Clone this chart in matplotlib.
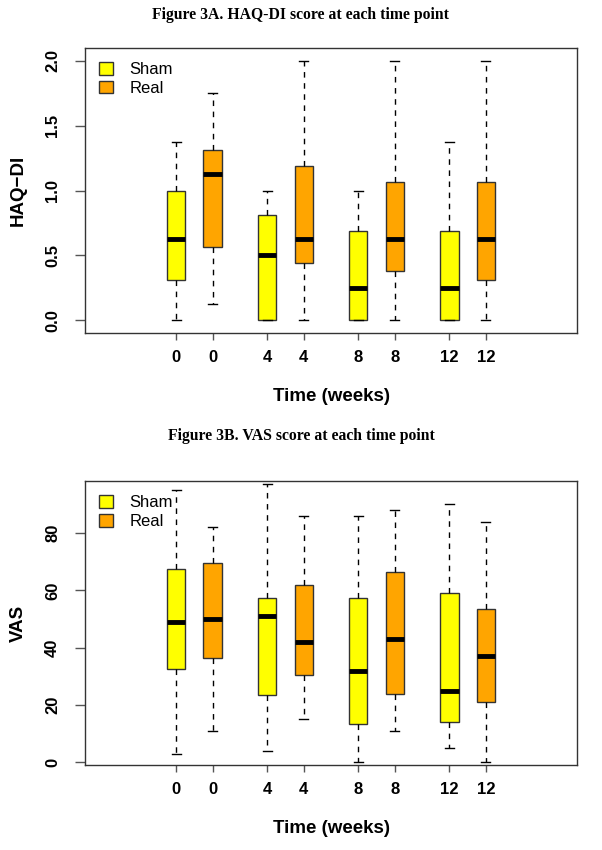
import matplotlib
matplotlib.use("Agg")
import matplotlib.pyplot as plt
from matplotlib.patches import Patch

# positions of the boxes on the x axis (pairs per time point)
positions = [1, 2, 3.5, 4.5, 6, 7, 8.5, 9.5]
tick_labels = ["0", "0", "4", "4", "8", "8", "12", "12"]
groups = ["Sham", "Real", "Sham", "Real", "Sham", "Real", "Sham", "Real"]
colors = {"Sham": "#FFFF00", "Real": "#FFA500"}

# HAQ-DI five-number summaries
haq_low = [0, 0.125, 0, 0, 0, 0, 0, 0]
haq_q1 = [0.3125, 0.5625, 0, 0.4375, 0, 0.375, 0, 0.3125]
haq_med = [0.625, 1.125, 0.5, 0.625, 0.25, 0.625, 0.25, 0.625]
haq_q3 = [1.0, 1.3125, 0.8125, 1.1875, 0.6875, 1.0625, 0.6875, 1.0625]
haq_high = [1.375, 1.75, 1.0, 2.0, 1.0, 2.0, 1.375, 2.0]

# VAS five-number summaries
vas_low = [3, 11, 4, 15, 0, 11, 5, 0]
vas_q1 = [32.5, 36.5, 23.5, 30.5, 13.5, 24, 14, 21]
vas_med = [49, 50, 51, 42, 32, 43, 25, 37]
vas_q3 = [67.5, 69.5, 57.5, 62, 57.5, 66.5, 59, 53.5]
vas_high = [95, 82, 97, 86, 86, 88, 90, 84]


def make_stats(low, q1, med, q3, high):
    return [dict(whislo=a, q1=b, med=c, q3=d, whishi=e, fliers=[])
            for a, b, c, d, e in zip(low, q1, med, q3, high)]


def draw_panel(ax, stats, ylim, yticks, yticklabels, ylabel):
    art = ax.bxp(stats, positions=positions, widths=0.5, patch_artist=True,
                 showfliers=False,
                 boxprops=dict(edgecolor="#333333", linewidth=1),
                 whiskerprops=dict(color="black", linestyle=(0, (4, 4)), linewidth=1),
                 capprops=dict(color="black", linewidth=1),
                 medianprops=dict(color="black", linewidth=3.5, solid_capstyle="butt"),
                 capwidths=0.25)
    for patch, g in zip(art["boxes"], groups):
        patch.set_facecolor(colors[g])
    ax.set_xlim(-1.5, 12)
    ax.set_ylim(*ylim)
    ax.set_xticks(positions)
    ax.set_xticklabels(tick_labels, fontsize=12, fontweight="bold", family="Liberation Sans")
    ax.set_yticks(yticks)
    ax.set_yticklabels(yticklabels, fontsize=12, fontweight="bold", family="Liberation Sans",
                       rotation=90, va="center")
    ax.tick_params(axis="x", length=5, width=1, color="#555555", pad=7)
    ax.tick_params(axis="y", length=7, width=1, color="#555555", pad=11)
    for s in ax.spines.values():
        s.set_color("#333333")
        s.set_linewidth(1)
    ax.set_xlabel("Time (weeks)", fontsize=13.5, fontweight="bold", family="Liberation Sans", labelpad=17)
    ax.set_ylabel(ylabel, fontsize=13.5, fontweight="bold", family="Liberation Sans", labelpad=13)
    handles = [Patch(facecolor=colors["Sham"], edgecolor="#333333", label="Sham"),
               Patch(facecolor=colors["Real"], edgecolor="#333333", label="Real")]
    ax.legend(handles=handles, loc="upper left", frameon=False,
              prop=dict(family="Liberation Sans", size=12),
              handlelength=0.8, handleheight=0.8, handletextpad=1.0,
              labelspacing=0.2, borderaxespad=0.45)


fig = plt.figure(figsize=(6.02, 8.5), dpi=100)
ax1 = fig.add_axes([0.1412, 0.6082, 0.8173, 0.3353])
ax2 = fig.add_axes([0.1412, 0.1, 0.8173, 0.334])

draw_panel(ax1, make_stats(haq_low, haq_q1, haq_med, haq_q3, haq_high),
           (-0.1, 2.1), [0, 0.5, 1.0, 1.5, 2.0], ["0.0", "0.5", "1.0", "1.5", "2.0"], "HAQ\u2212DI")
draw_panel(ax2, make_stats(vas_low, vas_q1, vas_med, vas_q3, vas_high),
           (-0.9, 98.1), [0, 20, 40, 60, 80], ["0", "20", "40", "60", "80"], "VAS")

fig.text(0.5, 1 - 15 / 850, "Figure 3A. HAQ-DI score at each time point", ha="center", va="center",
         fontsize=11.3, fontweight="bold", family="Liberation Serif")
fig.text(0.5, 1 - 436 / 850, "Figure 3B. VAS score at each time point", ha="center", va="center",
         fontsize=11.3, fontweight="bold", family="Liberation Serif")

fig.savefig("out.png", dpi=100)
